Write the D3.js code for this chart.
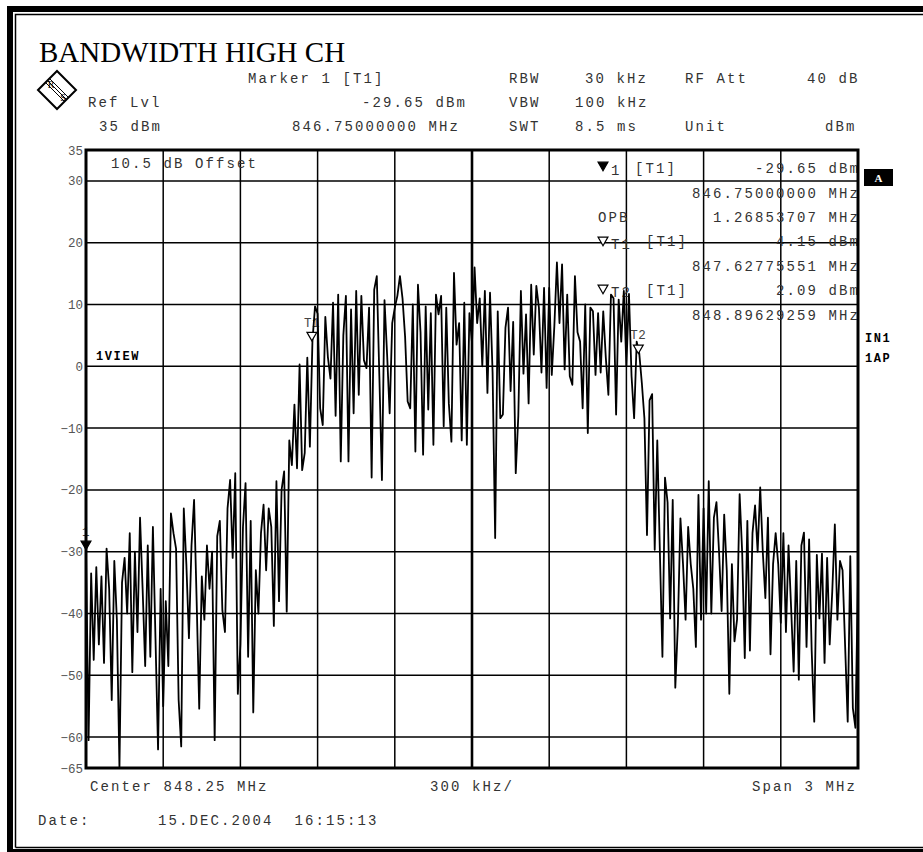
<!DOCTYPE html>
<html>
<head>
<meta charset="utf-8">
<script src="https://cdn.jsdelivr.net/npm/d3@7"></script>
<style>
  body { margin: 0; background: #fff; }
  svg text { white-space: pre; }
</style>
</head>
<body>
<div id="chart"></div>
<script>
// trace 1, dBm per sweep point, 846.75 .. 849.75 MHz
const levels = [
    -29.7, -60.5, -33.5, -47.5, -32.5, -45, -34, -48, -29.5, -36,
    -54, -31.5, -41, -65, -35, -31, -40, -27, -49.5, -30,
    -43, -24.5, -36, -48.5, -29, -47, -26, -44, -62, -36,
    -55, -38, -48.5, -23.8, -27, -29.5, -54, -61.5, -23, -32,
    -44, -29, -21.6, -38, -55.4, -34, -41, -29, -36, -30,
    -60.5,
    -27.5, -25, -39.5, -43, -23, -18.4, -31, -17.3, -53, -45,
    -26, -18.9, -47, -25, -56, -33, -40, -27, -22.4, -33,
    -23, -26, -42, -18.6, -38, -20, -17, -39.7, -12, -16,
    -6.2, -16.5, 0.3, -16.8, -14, 1.4, -13, 4.15, 9.7, 8.5,
    -6.8, -9.5, 8, 1.5, -2, 10.3, -8, 11.6, -15.4, 5,
    11.4, -15.4, 9.2, -7.6, 12.2, -4.6, 11.4, 1, -0.3, 9.5,
    -18, 12.4, 14.6, -1.6, -18.4, 10.7, 2, -7.6, 7, 9.5,
    11.4, 14.6, 11, 4.8, -5.7, -6.8, 10, -13.8, 13.2, 5.5,
    -14.3, 9.7, -7, 8.6, -12.7, 11.6, 8.4, 11.4, -9.7, 9.5,
    -6, -12.2, 15.1, 3.5, 7, -12, 10.3, -12.7, 8.6, 3.8,
    16, 7, 11, 0, 12.2, -4.3, 11.9, -1, -27.8, 8.9,
    -8.4, -7.8, 6.2, 9.5, -4, 7.2, -17.3, -8, 12.2, -1.2,
    8.4, -6, 13.2, 1.9, 13, 9.5, -1, 12.7, -3.5, 12.7,
    -1.4, 6.5, 16.8, 7, 16.5, -0.5, 11.6, -1.6, -3, 14.6,
    5.5, 4, -6.8, 10, -10.8, 9.5, 8.9, -1.4, 8.6, -1,
    8.9, 1.4, -4.6, 11.6, 11, -7.8, 10.8, 4, 12.2, 0,
    11.7, -1.6, -8.4, 4, 2.09, -2.7, -8.4, -27.3, -5.5, -4.5,
    -29.7, -12, -29.9, -47, -18, -22, -40.8, -21.6, -52, -41.9,
    -24.6, -32, -41, -26, -32, -36, -45.4, -20.8, -41, -23,
    -40, -18.6, -40, -24.5, -22, -30, -39.6, -24, -33, -53,
    -32, -44.5, -41, -20.7, -30.2, -47.2, -25, -46, -27, -22.5,
    -30, -19.6, -30, -37.5, -24.5, -46.6, -32, -27, -32, -41.5,
    -27, -43, -29, -39, -49.4, -31.5, -50.7, -29, -26.9, -45.4,
    -28, -46, -57.5, -30.5, -40.8, -30.3, -48, -31, -45, -36.4,
    -25.6, -41, -31.5, -33, -45.3, -57.5, -30.7, -55.3, -58.5, -34
]

const startMHz = 846.75
const stopMHz = 849.75
const refLevel = 35
const bottomLevel = -65
const yTickValues = [35, 30, 20, 10, 0, -10, -20, -30, -40, -50, -60, -65]
const gridLevels = [30, 20, 10, 0, -10, -20, -30, -40, -50, -60]
const divisions = 10

const markers = [
    { name: "1", freq: 846.75, level: -29.65, filled: true },
    { name: "T1", freq: 847.62775551, level: 4.15, filled: false },
    { name: "T2", freq: 848.89629259, level: 2.09, filled: false },
]

const title = "BANDWIDTH HIGH CH"
const dateText = "15.DEC.2004  16:15:13"

let dimensions = {
    width: 923,
    height: 852,
    left: 86,
    right: 858,
    top: 150,
    bottom: 768,
}

const mono = "'Liberation Mono', 'Courier New', monospace"

const svg = d3.select('#chart')
    .append("svg")
    .attr("width", dimensions.width)
    .attr("height", dimensions.height)
    .style("font-family", mono)

// outer page frame (thick + thin line)
svg.append("rect")
    .attr("x", 10).attr("y", 9)
    .attr("width", 940).attr("height", 843)
    .attr("fill", "none").attr("stroke", "#000").attr("stroke-width", 6)
svg.append("path")
    .attr("d", "M15.5,847.5 V14.5 H940 M15.5,847.5 H940")
    .attr("fill", "none").attr("stroke", "#000").attr("stroke-width", 1.5)

function txt(x, y, str, opt = {}) {
    return svg.append("text")
        .attr("x", x).attr("y", y)
        .attr("text-anchor", opt.anchor || "start")
        .style("font-size", (opt.size || 14) + "px")
        .style("letter-spacing", (opt.ls === undefined ? 2.1 : opt.ls) + "px")
        .style("font-weight", opt.bold ? "bold" : "normal")
        .style("font-family", opt.family || mono)
        .attr("fill", opt.fill || "#333")
        .text(str)
}

// title
txt(39, 62, title, { family: "'Liberation Serif', 'Times New Roman', serif", size: 29, ls: 0, fill: "#000" })

// R&S logo
const logo = svg.append("g").attr("transform", "translate(57,90)")
logo.append("path").attr("d", "M-19,0 L0,-19 L19,0 L0,19 Z")
    .attr("fill", "#fff").attr("stroke", "#000").attr("stroke-width", 2)
    ;[-2, 0, 2].forEach(d => {
        logo.append("line")
            .attr("x1", -9.5 + d).attr("y1", -9.5 - d)
            .attr("x2", 9.5 + d).attr("y2", 9.5 - d)
            .attr("stroke", "#000").attr("stroke-width", 1)
    })
logo.append("text").attr("x", -6).attr("y", -2).attr("text-anchor", "middle")
    .style("font-family", "'Liberation Serif', serif").style("font-size", "10px").text("R")
logo.append("text").attr("x", 6).attr("y", 11).attr("text-anchor", "middle")
    .style("font-family", "'Liberation Serif', serif").style("font-size", "10px").text("S")

// header block
txt(248, 83, "Marker 1 [T1]")
txt(509, 83, "RBW")
txt(585, 83, "30 kHz")
txt(685, 83, "RF Att")
txt(807, 83, "40 dB")
txt(88, 107, "Ref Lvl")
txt(362, 107, "-29.65 dBm")
txt(509, 107, "VBW")
txt(575, 107, "100 kHz")
txt(99, 131, refLevel + " dBm")
txt(292, 131, "846.75000000 MHz")
txt(509, 131, "SWT")
txt(575, 131, "8.5 ms")
txt(685, 131, "Unit")
txt(825, 131, "dBm")

//////////
// SCALES //
//////////
const x = d3.scaleLinear()
    .domain([startMHz, stopMHz])
    .range([dimensions.left, dimensions.right])
const y = d3.scaleLinear()
    .domain([bottomLevel, refLevel])
    .range([dimensions.bottom, dimensions.top])
const pointFreq = d3.scaleLinear()
    .domain([0, levels.length - 1])
    .range([startMHz, stopMHz])

// grid
const grid = svg.append("g").attr("stroke", "#000")
grid.selectAll(".hgrid")
    .data(gridLevels)
    .join("line")
    .attr("x1", dimensions.left).attr("x2", dimensions.right)
    .attr("y1", d => y(d)).attr("y2", d => y(d))
    .attr("stroke-width", 1.5)
const divMHz = (stopMHz - startMHz) / divisions
grid.selectAll(".vgrid")
    .data(d3.range(1, divisions))
    .join("line")
    .attr("x1", k => x(startMHz + k * divMHz)).attr("x2", k => x(startMHz + k * divMHz))
    .attr("y1", dimensions.top).attr("y2", dimensions.bottom)
    .attr("stroke-width", k => k === divisions / 2 ? 2.6 : 1.5)

// Y axis labels
const yAxis = svg.append("g")
    .attr("transform", `translate(${dimensions.left},0)`)
    .call(d3.axisLeft(y).tickValues(yTickValues).tickSize(0).tickPadding(3))
yAxis.select(".domain").remove()
yAxis.selectAll("text")
    .style("font-family", mono)
    .style("font-size", "12.5px")
    .attr("fill", "#555")

// in-plot annotations
txt(111, 168, "10.5 dB Offset")
txt(96, 360, "1VIEW", { bold: true, size: 12, ls: 1.6, fill: "#000" })

const tri = d3.symbol().type(d3.symbolTriangle).size(42)
function triangle(cx, cy, filled) {
    svg.append("path")
        .attr("d", tri())
        .attr("transform", `translate(${cx},${cy}) rotate(180)`)
        .attr("fill", filled ? "#000" : "#fff")
        .attr("stroke", "#000")
        .attr("stroke-width", 1.2)
}

const endX = 860
triangle(603, 165, true)
txt(611, 175, "1")
txt(635, 173, "[T1]")
txt(endX, 173, "-29.65 dBm", { anchor: "end" })
txt(endX, 198, "846.75000000 MHz", { anchor: "end" })
txt(598, 222, "OPB")
txt(endX, 222, "1.26853707 MHz", { anchor: "end" })
triangle(603, 240, false)
txt(611, 249, "T1")
txt(646, 246, "[T1]")
txt(endX, 246, markers[1].level.toFixed(2) + " dBm", { anchor: "end" })
txt(endX, 271, markers[1].freq.toFixed(8) + " MHz", { anchor: "end" })
triangle(603, 288, false)
txt(611, 297, "T2")
txt(646, 295, "[T1]")
txt(endX, 295, markers[2].level.toFixed(2) + " dBm", { anchor: "end" })
txt(endX, 320, markers[2].freq.toFixed(8) + " MHz", { anchor: "end" })

// marker labels (trace is drawn over them)
markers.forEach(m => {
    txt(x(m.freq) - (m.filled ? 4 : 8), y(m.level) - 14, m.name, { size: 12.5, ls: 0.5, fill: "#444" })
})

//////////
// TRACE //
//////////
const line = d3.line()
    .x((d, i) => x(pointFreq(i)))
    .y(d => y(d))

svg.append("path")
    .datum(levels)
    .attr("d", line)
    .attr("fill", "none")
    .attr("stroke", "#000")
    .attr("stroke-width", 1.8)
    .attr("stroke-linejoin", "round")

markers.forEach(m => {
    triangle(x(m.freq), y(m.level) - 5.5, m.filled)
})

// plot border
svg.append("rect")
    .attr("x", dimensions.left).attr("y", dimensions.top)
    .attr("width", dimensions.right - dimensions.left)
    .attr("height", dimensions.bottom - dimensions.top)
    .attr("fill", "none").attr("stroke", "#000").attr("stroke-width", 3)

// right side status
svg.append("rect").attr("x", 864).attr("y", 169).attr("width", 29).attr("height", 17).attr("fill", "#000")
svg.append("text").attr("x", 878.5).attr("y", 182).attr("text-anchor", "middle")
    .style("font-family", "'Liberation Serif', serif").style("font-weight", "bold").style("font-size", "11px")
    .attr("fill", "#fff").text("A")
txt(865, 342, "IN1", { bold: true, size: 12, ls: 1.6, fill: "#000" })
txt(865, 362, "1AP", { bold: true, size: 12, ls: 1.6, fill: "#000" })

// footer
txt(90, 791, "Center " + ((startMHz + stopMHz) / 2).toFixed(2) + " MHz")
txt(430, 791, "300 kHz/")
txt(752, 791, "Span " + (stopMHz - startMHz) + " MHz")
txt(38, 825, "Date:")
txt(158, 825, dateText)
</script>
</body>
</html>
